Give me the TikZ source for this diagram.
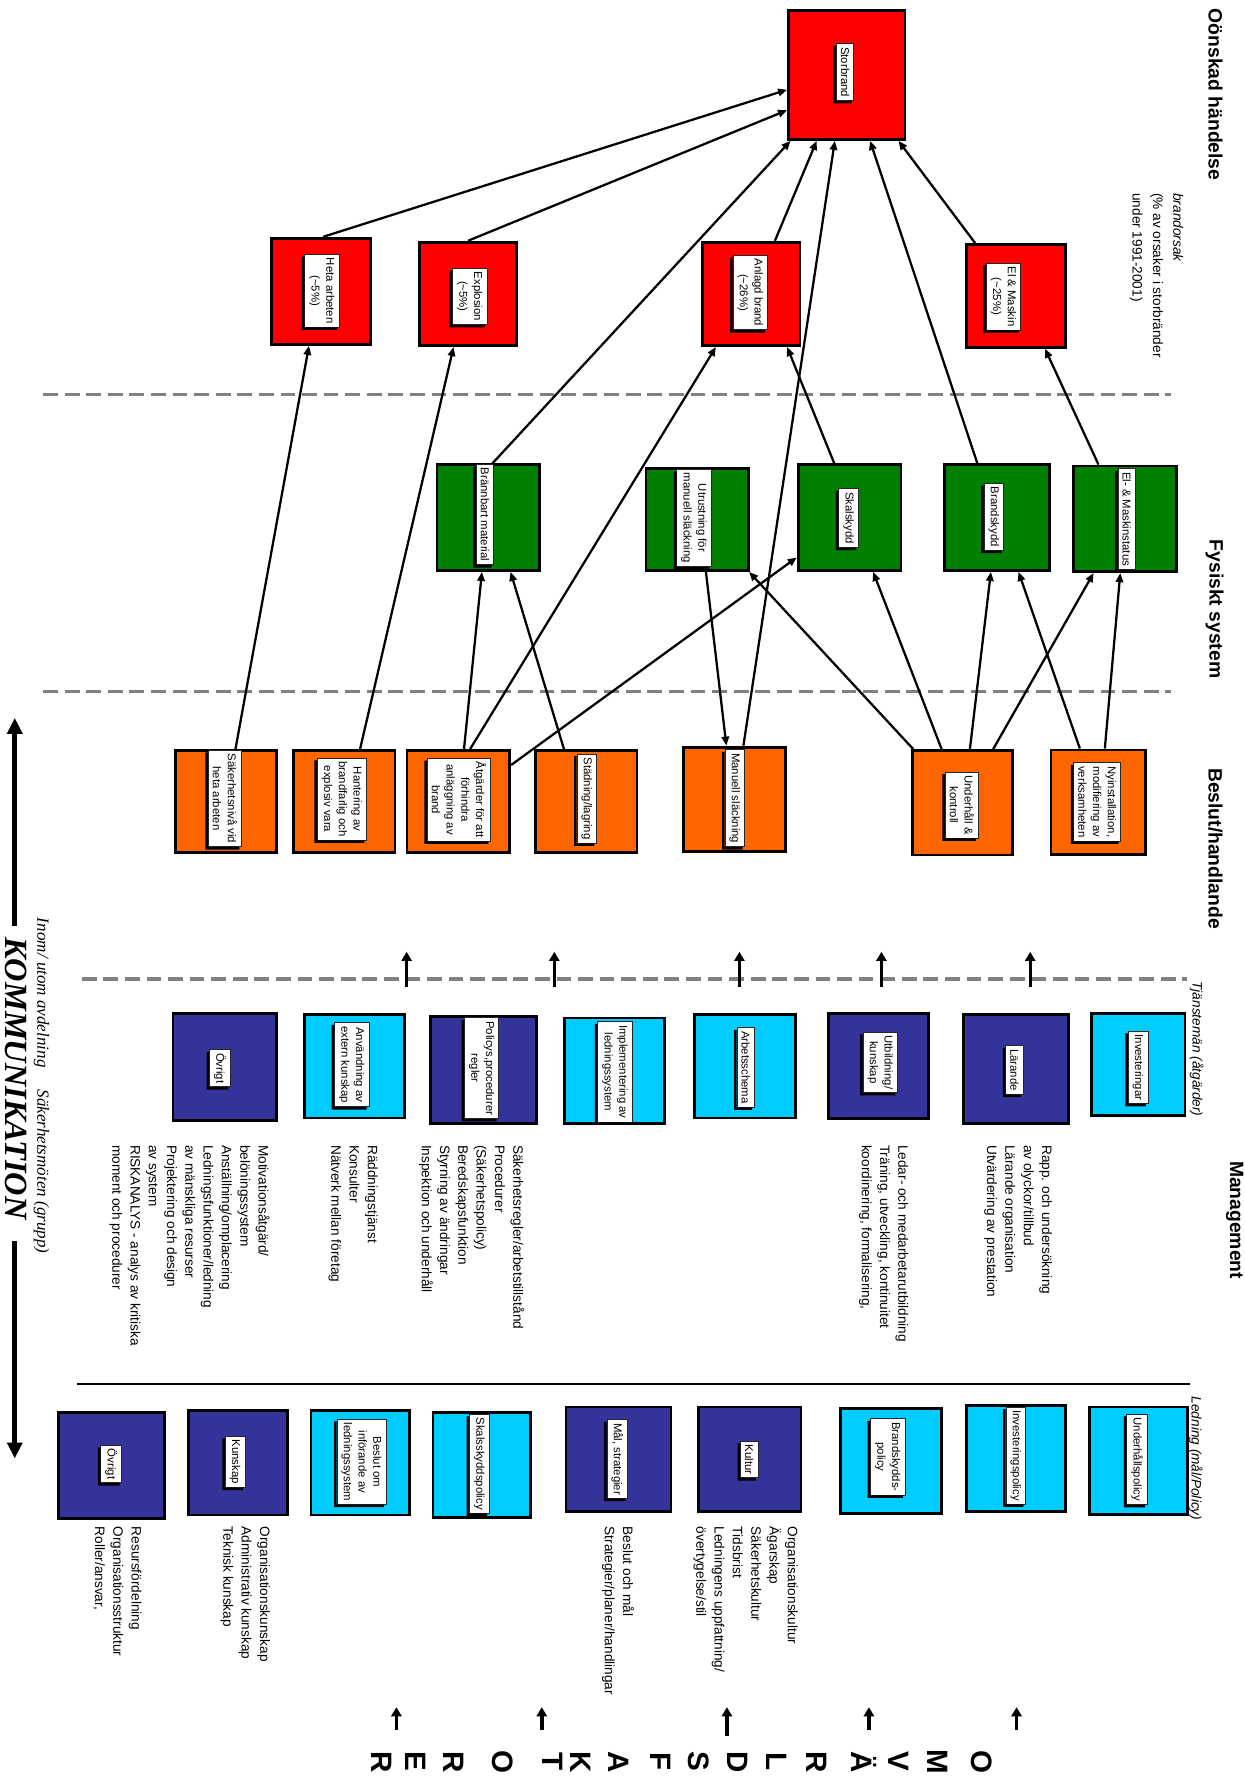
\documentclass[tikz,border=0pt]{standalone}
\usepackage{fontspec}
\setmainfont{Liberation Sans}
\newfontfamily\serifface{Liberation Serif}
\usetikzlibrary{arrows.meta}

\definecolor{boxred}{HTML}{FF0000}
\definecolor{boxgreen}{HTML}{008000}
\definecolor{boxorange}{HTML}{FF6600}
\definecolor{boxdark}{HTML}{333399}
\definecolor{boxlight}{HTML}{00CCFF}
\definecolor{sepgray}{HTML}{808080}

% shadow offset of the white labels
\newcommand\shd{2.2pt}
% coloured square: name, colour, centre x, centre y, width, height
\newcommand\putbox[6]{\node[cellbox, fill=#2, minimum width=#5pt, minimum height=#6pt] (#1) at (#3,#4) {};}
% white label with a black drop shadow to the lower left
\newcommand\putlabel[4]{%
  \node[tagbox] (#1) at (#2,#3) {#4};
  \fill ([xshift=-\shd,yshift=-\shd]#1.south west) -- ([yshift=-\shd]#1.south west)
     -- (#1.south east) -- ([xshift=-\shd]#1.north east)
     -- ([xshift=-\shd,yshift=-\shd]#1.north east)
     -- ([xshift=-\shd,yshift=-\shd]#1.south east) -- cycle;}

\begin{document}
\begin{tikzpicture}[x=1pt, y=-1pt,
  cellbox/.style={draw=black, line width=2.5pt, inner sep=0pt},
  tagbox/.style={draw=black!85, line width=0.6pt, fill=white, rotate=-90, align=center,
    inner xsep=3pt, inner ysep=4pt, font=\fontsize{10}{13}\selectfont},
  conn/.style={line width=2pt, -{Triangle[length=8pt,width=6.5pt]}},
  uparrow/.style={line width=3pt, -{Triangle[length=8pt,width=9pt]}},
  bigarrow/.style={line width=4pt, -{Triangle[length=14pt,width=13pt]}},
  divider/.style={draw=sepgray, line width=3pt, dash pattern=on 13pt off 6pt},
  notes/.style={rotate=-90, anchor=north west, inner sep=0pt, align=left,
    font=\fontsize{12}{16.1}\selectfont},
  rowtitle/.style={rotate=-90, anchor=base west, inner sep=0pt,
    font=\fontsize{17}{20}\selectfont\bfseries},
  subtitle/.style={rotate=-90, anchor=base west, inner sep=0pt,
    font=\fontsize{12}{15}\selectfont\itshape},
  bigletter/.style={rotate=-90, anchor=center, inner sep=0pt, text height=18.5pt,
    text depth=0pt, font=\fontsize{26}{26}\selectfont\bfseries},
]
\useasboundingbox (0,0) rectangle (1096,1568);
\fill[white] (0,0) rectangle (1096,1568);

% level dividers
\draw[divider] (38,347.5) -- (1031,347.5);
\draw[divider] (38,609) -- (1031,609);
\draw[divider] (72,862) -- (1045,862);
\draw[line width=1pt] (68,1218.5) -- (1048,1218.5);

% undesired event and fire causes
\putbox{sb}{boxred}{745.5}{66}{102.5}{113.5}
\putbox{ha}{boxred}{282.5}{256.5}{87.5}{93.5}
\putbox{ex}{boxred}{412}{258.75}{85.5}{91}
\putbox{an}{boxred}{661.25}{258.75}{86}{91}
\putbox{em}{boxred}{894.5}{260.5}{86.5}{90.5}

% physical system
\putbox{bm}{boxgreen}{430}{455.75}{90.5}{93}
\putbox{ut}{boxgreen}{614}{457.25}{90.5}{90}
\putbox{sk}{boxgreen}{748}{455.75}{90.5}{93}
\putbox{bs}{boxgreen}{878}{455.75}{92.5}{93}
\putbox{ms}{boxgreen}{990.5}{456.75}{90.5}{93}

% decisions and actions
\putbox{sa}{boxorange}{199}{705.75}{89.5}{90}
\putbox{hb}{boxorange}{303}{705.75}{89.5}{90}
\putbox{ag}{boxorange}{403.5}{705.75}{90.5}{90}
\putbox{st}{boxorange}{516}{705.75}{89.5}{90}
\putbox{ma}{boxorange}{646.5}{703.75}{89.5}{92}
\putbox{uk}{boxorange}{847.5}{706.75}{88.5}{92}
\putbox{ny}{boxorange}{967}{706.25}{83.5}{92}

% management: staff level
\putbox{mo}{boxdark}{198}{939.25}{91.5}{94}
\putbox{ae}{boxlight}{312}{938.75}{87.5}{91}
\putbox{pp}{boxdark}{425.75}{942}{93}{94.5}
\putbox{il}{boxlight}{541.25}{942.75}{88}{93}
\putbox{as}{boxlight}{656}{938.75}{88.5}{91}
\putbox{uu}{boxdark}{773.75}{938.5}{88}{92.5}
\putbox{la}{boxdark}{894.5}{941.25}{92.5}{96}
\putbox{iv}{boxlight}{1002.25}{937}{82}{89.5}

% management: leadership level
\putbox{lo}{boxdark}{98.25}{1290}{93}{93.5}
\putbox{lk}{boxdark}{209.25}{1287.75}{87}{92}
\putbox{lb}{boxlight}{317}{1287.75}{86.5}{92}
\putbox{ls}{boxlight}{424}{1290}{85.5}{92.5}
\putbox{lm}{boxdark}{544.5}{1284.75}{92.5}{92}
\putbox{lc}{boxdark}{660}{1284.75}{90.5}{92}
\putbox{lp}{boxlight}{784.5}{1286.25}{88.5}{92}
\putbox{li}{boxlight}{894.5}{1284}{87.5}{93.5}
\putbox{lu}{boxlight}{1002.25}{1286}{86}{94.5}

% causes -> major fire
\draw[conn] ([xshift=2pt]ha.north) -- ([yshift=-13pt]sb.west);
\draw[conn] (ex.north) -- ([yshift=-31pt]sb.west);
\draw[conn] ([xshift=3.5pt]bm.north) -- ([xshift=3pt]sb.south west);
\draw[conn] ([xshift=21pt]an.north) -- ([xshift=-26.5pt]sb.south);
\draw[conn] ([xshift=8pt]ma.north) -- ([xshift=-10.5pt]sb.south);
\draw[conn] ([xshift=-17.5pt]bs.north) -- ([xshift=20.5pt]sb.south);
\draw[conn] ([xshift=-36pt]em.north) -- ([xshift=45.5pt]sb.south);
% lower levels -> causes
\draw[conn] ([xshift=8.3pt]sa.north) -- ([xshift=-10.5pt]ha.south);
\draw[conn] ([xshift=14pt]hb.north) -- ([xshift=-12.7pt]ex.south);
\draw[conn] ([xshift=10.4pt]ag.north) -- ([xshift=-31pt]an.south);
\draw[conn] ([xshift=-13.5pt]sk.north) -- ([xshift=31.7pt]an.south);
\draw[conn] ([xshift=-23.4pt]ms.north) -- ([xshift=25.5pt]em.south);
% actions -> physical system
\draw[conn] ([xshift=5pt]ag.north) -- ([xshift=-5.7pt]bm.south);
\draw[conn] ([xshift=-19.5pt]st.north) -- ([xshift=19.5pt]bm.south);
\draw[conn] ([yshift=-14pt]ag.north east) -- ([yshift=-35pt]sk.west);
\draw[conn] ([xshift=7.5pt]ut.south) -- ([xshift=-7pt]ma.north);
\draw[conn] ([xshift=2pt]uk.north west) -- ([xshift=-1pt]ut.south east);
\draw[conn] ([xshift=-18.5pt]uk.north) -- ([xshift=20.7pt]sk.south);
\draw[conn] ([xshift=6.4pt]uk.north) -- ([xshift=-5.6pt]bs.south);
\draw[conn] ([xshift=26.9pt]uk.north) -- ([xshift=-27.7pt]ms.south);
\draw[conn] ([xshift=-16.3pt]ny.north) -- ([xshift=18.7pt]bs.south);
\draw[conn] ([xshift=5.7pt]ny.north) -- ([xshift=-4.2pt]ms.south);

% labels
\putlabel{sbt}{744}{63.5}{Storbrand}
\putlabel{hat}{283.5}{256}{Heta arbeten\\(\textasciitilde5\%)}
\putlabel{ext}{413.5}{261}{Explosion\\(\textasciitilde5\%)}
\putlabel{ant}{660.5}{257.5}{Anlagd brand\\(\textasciitilde26\%)}
\putlabel{emt}{883.5}{261}{El \& Maskin\\(\textasciitilde25\%)}
\putlabel{bmt}{427}{453}{Brännbart material}
\putlabel{utt}{611}{456}{Utrustning för\\manuell släckning}
\putlabel{skt}{747}{456}{Skalskydd}
\putlabel{bst}{875}{455}{Brandskydd}
\putlabel{mst}{992}{457}{El- \& Maskinstatus}
\putlabel{sat}{198}{703}{Säkerhetsnivå vid\\heta arbeten}
\putlabel{hbt}{301}{703.5}{Hantering av\\brandfarlig och\\explosiv vara}
\putlabel{agt}{404}{704}{Åtgärder för att\\förhindra\\anläggning av\\brand}
\putlabel{stt}{516.6}{703}{Städning/lagring}
\putlabel{mat}{647}{702.7}{Manuell släckning}
\putlabel{ukt}{846.8}{708.7}{Underhåll \&\\kontroll}
\putlabel{nyt}{966}{706}{Nyinstallation,\\modifiering av\\verksamheten}
\putlabel{mot}{193.7}{940.5}{Övrigt}
\putlabel{aet}{309.6}{937.4}{Användning av\\extern kunskap}
\putlabel{ppt}{424}{940.4}{Policys,procedurer\\regler}
\putlabel{ilt}{541.4}{943.7}{Implementering av\\ledningssystem}
\putlabel{ast}{656.4}{939.7}{Arbetsschema}
\putlabel{uut}{775}{935.3}{Utbildning/\\kunskap}
\putlabel{lat}{893.2}{942}{Lärande}
\putlabel{ivt}{1002}{939.7}{Investeringar}
\putlabel{lot}{98}{1289}{Övrigt}
\putlabel{lkt}{207}{1287}{Kunskap}
\putlabel{lbt}{318.4}{1287}{Beslut om\\införande av\\ledningssystem}
\putlabel{lst}{422}{1288.6}{Skalsskyddspolicy}
\putlabel{lmt}{543.5}{1284.5}{Mål, strategier}
\putlabel{lct}{659.6}{1285}{Kultur}
\putlabel{lpt}{781.6}{1282.7}{Brandskydds-\\policy}
\putlabel{lit}{894.3}{1281.5}{Investeringspolicy}
\putlabel{lut}{1001}{1284.8}{Underhållspolicy}

% row titles
\node[rowtitle] (t1) at (1064,7.5) {Oönskad händelse};
\node[rowtitle] (t2) at (1065,475) {Fysiskt system};
\node[rowtitle] (t3) at (1064,676) {Beslut/handlande};
\node[rowtitle] (t4) at (1083,1022) {Management};
\node[notes, font=\fontsize{12}{18}\selectfont] (cause) at (1042,170)
  {\textit{brandorsak}\\(\% av orsaker i storbränder\\under 1991-2001)};
\node[subtitle] (tj) at (1050,864) {Tjänstemän (åtgärder)};
\node[subtitle] (ld) at (1049,1229.5) {Ledning (mål/Policy)};

% explanatory lists
\node[notes] (n1) at (926.3,1008) {Rapp. och undersökning\\av olyckor/tillbud\\Lärande organisation\\Utvärdering av prestation};
\node[notes] (n2) at (799.8,1008) {Ledar- och medarbetarutbildning\\Träning, utveckling, kontinuitet\\koordinering, formalisering,};
\node[notes] (n3) at (461.8,1008) {Säkerhetsregler/arbetstillstånd\\Procedurer\\(Säkerhetspolicy)\\Beredskapsfunktion\\Styrning av ändringar\\Inspektion och underhåll};
\node[notes] (n4) at (332.8,1008) {Räddningstjänst\\Konsulter\\Nätverk mellan företag};
\node[notes] (n5) at (237.5,1008) {Motivationsåtgärd/\\belöningssystem\\Anställning/omplacering\\Ledningsfunktioner/ledning\\av mänskliga resurser\\Projektering och design\\av system\\RISKANALYS - analys av kritiska\\moment och procedurer};
\node[notes] (n6) at (702.5,1344) {Organisationskultur\\Ägarskap\\Säkerhetskultur\\Tidsbrist\\Ledningens uppfattning/\\övertygelse/stil};
\node[notes] (n7) at (558.4,1344) {Beslut och mål\\Strategier/planer/handlingar};
\node[notes] (n8) at (237.8,1344) {Organisationskunskap\\Administrativ kunskap\\Teknisk kunskap};
\node[notes] (n9) at (124.8,1344) {Resursfördelning\\Organisationsstruktur\\Roller/ansvar,};

% influence arrows into the action level
\foreach \xx [count=\i] in {358,488,651,776,907} {
  \coordinate (mf\i) at (\xx,869);
  \coordinate (mt\i) at (\xx,838);
  \draw[uparrow] (mf\i) -- (mt\i);
}

% external factors
\foreach \ch/\xx [count=\i] in {O/864.8, M/825.4, V/791.9, Ä/758.8, R/719.3, L/684.1, D/649.3,
    S/615.8, F/581.7, A/545.1, K/511.6, T/486.5, O/442.7, R/399.6, E/366.1, R/336.6}
  \node[bigletter] (omv\i) at (\xx,1551) {\ch};
\foreach \xx/\yy [count=\i] in {349/1523, 477/1523, 640/1528, 765/1523, 895/1523} {
  \coordinate (of\i) at (\xx,\yy);
  \coordinate (ot\i) at (\xx,1503);
  \draw[uparrow] (of\i) -- (ot\i);
}

% communication
\node[rotate=-90, anchor=base west, inner sep=0pt,
  font=\serifface\fontsize{28.5}{30}\selectfont\bfseries\itshape] (kom) at (4.5,825) {KOMMUNIKATION};
\node[rotate=-90, anchor=base west, inner sep=0pt,
  font=\serifface\fontsize{15}{17}\selectfont\itshape] (inom) at (33,808)
  {Inom/ utom avdelning\hspace{1.3em}Säkerhetsmöten (grupp)};
\coordinate (ku0) at (13,815);
\coordinate (ku1) at (13,632);
\coordinate (kd0) at (13,1093);
\coordinate (kd1) at (13,1284);
\draw[bigarrow] (ku0) -- (ku1);
\draw[bigarrow] (kd0) -- (kd1);
\end{tikzpicture}
\end{document}
